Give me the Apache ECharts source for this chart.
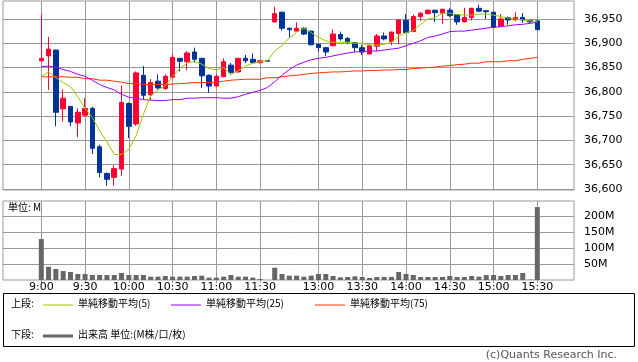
<!DOCTYPE html>
<html><head><meta charset="utf-8">
<script src="https://cdn.jsdelivr.net/npm/echarts@6/dist/echarts.min.js"></script>
<style>html,body{margin:0;padding:0;background:#fff}#c{width:638px;height:362px}</style>
</head><body><div id="c"></div>
<script>
var times = ["9:00","9:05","9:10","9:15","9:20","9:25","9:30","9:35","9:40","9:45","9:50","9:55",
"10:00","10:05","10:10","10:15","10:20","10:25","10:30","10:35","10:40","10:45","10:50","10:55",
"11:00","11:05","11:10","11:15","11:20","11:25","11:30","12:25",
"12:30","12:35","12:40","12:45","12:50","12:55","13:00","13:05","13:10","13:15","13:20","13:25",
"13:30","13:35","13:40","13:45","13:50","13:55","14:00","14:05","14:10","14:15","14:20","14:25",
"14:30","14:35","14:40","14:45","14:50","14:55","15:00","15:05","15:10","15:15","15:20","15:25","15:30"];
var tickLabels = ["9:00","9:30","10:00","10:30","11:00","11:30","13:00","13:30","14:00","14:30","15:00","15:30"];
var open  = [36864,36874,36886,36765,36770,36736,36752,36766,36687,36632,36624,36641,36776,36734,36834,36794,36822,36807,36830,36869,36862,36882,36869,36834,36812,36831,36855,36841,36869,36867,36860,36864,36944,36964,36931,36925,36931,36925,36898,36891,36895,36918,36910,36901,36891,36878,36894,36915,36904,36920,36947,36924,36955,36961,36968,36962,36968,36959,36944,36953,36972,36967,36964,36935,36953,36948,36953,36947,36946];
var close = [36869,36888,36758,36787,36738,36758,36766,36684,36634,36620,36642,36778,36729,36839,36793,36819,36808,36832,36871,36863,36880,36867,36833,36812,36832,36862,36840,36869,36864,36860,36864,36863,36961,36931,36928,36931,36919,36897,36891,36882,36919,36909,36903,36891,36882,36895,36915,36909,36923,36948,36922,36955,36962,36968,36963,36970,36957,36944,36953,36972,36966,36965,36933,36950,36948,36953,36948,36944,36928];
var high  = [36960,36913,36887,36805,36771,36766,36787,36769,36691,36634,36649,36813,36778,36842,36853,36826,36836,36836,36878,36870,36884,36891,36870,36836,36836,36869,36860,36870,36876,36879,36865,36864,36975,36965,36932,36943,36933,36926,36899,36892,36929,36924,36913,36902,36897,36898,36919,36922,36924,36950,36960,36959,36964,36970,36969,36971,36972,36960,36973,36973,36979,36968,36965,36960,36955,36964,36962,36948,36947];
var low   = [36862,36804,36729,36739,36729,36707,36749,36672,36624,36607,36607,36627,36705,36730,36785,36783,36805,36804,36828,36842,36845,36860,36808,36798,36811,36830,36836,36840,36859,36859,36859,36863,36943,36926,36912,36924,36917,36895,36883,36874,36894,36905,36898,36882,36876,36877,36884,36906,36896,36898,36921,36923,36946,36960,36944,36940,36954,36938,36943,36947,36964,36950,36932,36934,36938,36947,36942,36942,36927];
var ma5  = [36831,36841,36829,36819,36811,36790,36766,36747,36720,36697,36671,36671,36682,36710,36754,36792,36804,36813,36831,36849,36859,36863,36857,36848,36845,36850,36836,36844,36853,36859,36862,36864,36884,36895,36911,36923,36931,36922,36912,36905,36902,36902,36902,36900,36900,36896,36896,36898,36902,36914,36922,36926,36939,36950,36953,36962,36962,36959,36958,36958,36960,36960,36958,36955,36952,36950,36948,36946,36944];
var ma25 = [36852,36853,36851,36846,36842,36836,36832,36824,36815,36809,36804,36795,36789,36787,36784,36783,36782,36782,36784,36784,36787,36787,36788,36788,36788,36787,36787,36790,36795,36799,36803,36809,36821,36834,36846,36855,36861,36866,36869,36871,36874,36877,36880,36882,36883,36884,36884,36886,36888,36890,36895,36900,36905,36912,36915,36919,36924,36925,36925,36927,36929,36931,36933,36934,36936,36938,36939,36941,36943];
var ma75 = [36831,36831,36831,36831,36830,36830,36827,36827,36824,36824,36822,36820,36817,36817,36815,36815,36815,36815,36816,36817,36818,36819,36819,36819,36820,36822,36824,36825,36826,36826,36826,36829,36829,36831,36833,36834,36836,36838,36839,36840,36841,36841,36842,36843,36843,36844,36844,36845,36845,36846,36846,36848,36849,36850,36851,36853,36854,36856,36857,36859,36859,36862,36862,36862,36864,36864,36867,36869,36871];
var volume = [128,41.6,34.4,28,25,18.8,18.8,15.6,15.6,15.6,15.6,21.9,15.6,15.6,15.6,10.4,10.4,12.5,10.4,10.4,10.4,12.5,13.5,7.3,7.3,10.4,15.6,10.4,10.4,7.3,3,0,38.5,18.8,13.5,13.5,10.4,13.5,18.8,18.8,12.5,8.3,9.4,11.5,9.4,6.3,9.4,9.4,9.4,25,18.8,15.6,9.4,9.4,9.4,9.4,12.5,9.4,9.4,12.5,10.4,15.6,15.6,12.5,15.6,15.6,21.9,1,228];
var priceTicks = [36600,36650,36700,36750,36800,36850,36900,36950];
var volTicks = [50,100,150,200];

var tickIdx = tickLabels.map(function(t){return times.indexOf(t);});
var candles = times.map(function(t,i){return [i, open[i], close[i], low[i], high[i]];});
function pairs(arr){return arr.map(function(v,i){return [i,v];});}

var FONT = 'DejaVu Sans';
var CJK = 'Noto Sans CJK JP';
var GRID = '#999';
var chart = echarts.init(document.getElementById('c'), null, {renderer:'canvas'});
var xCommon = {type:'value', min:-5.25, max:73.03, axisLine:{show:false},
  splitLine:{show:true, lineStyle:{color:GRID, width:1}}};
chart.setOption({
  animation:false,
  backgroundColor:'#fff',
  grid:[
    {left:3, top:1, width:571, height:189, show:true, borderColor:GRID, borderWidth:1, backgroundColor:'#fff'},
    {left:3, top:201, width:571, height:79, show:true, borderColor:GRID, borderWidth:1, backgroundColor:'#fff'}
  ],
  xAxis:[
    Object.assign({}, xCommon, {gridIndex:0,
      axisTick:{show:false, customValues:tickIdx},
      axisLabel:{show:false, customValues:tickIdx}}),
    Object.assign({}, xCommon, {gridIndex:1,
      axisTick:{show:true, length:3, lineStyle:{color:GRID}, customValues:tickIdx},
      axisLabel:{show:true, customValues:tickIdx, margin:2, color:'#000', fontFamily:FONT, fontSize:11,
        formatter:function(v){return times[Math.round(v)];}}})
  ],
  yAxis:[
    {type:'value', gridIndex:0, position:'right', min:36598, max:36987, axisLine:{show:false},
      axisTick:{show:true, length:3, lineStyle:{color:GRID}, customValues:priceTicks},
      axisLabel:{customValues:priceTicks, margin:10, color:'#000', fontFamily:FONT, fontSize:11,
        formatter:function(v){return v.toLocaleString('en-US');}},
      splitLine:{show:true, lineStyle:{color:GRID}}},
    {type:'value', gridIndex:1, position:'right', min:0, max:247, axisLine:{show:false},
      axisTick:{show:true, length:3, lineStyle:{color:GRID}, customValues:volTicks},
      axisLabel:{customValues:volTicks, margin:10, color:'#000', fontFamily:FONT, fontSize:11,
        formatter:function(v){return v+'M';}},
      splitLine:{show:true, lineStyle:{color:GRID}}}
  ],
  series:[
    {type:'candlestick', xAxisIndex:0, yAxisIndex:0, data:candles, encode:{x:0, y:[1,2,3,4]},
      barWidth:5,
      itemStyle:{color:'#ff0033', color0:'#003399', borderColor:'#ff0033', borderColor0:'#003399', borderWidth:1}},
    {type:'line', xAxisIndex:0, yAxisIndex:0, data:pairs(ma75), showSymbol:false, lineStyle:{color:'#ff3300', width:1}, z:3},
    {type:'line', xAxisIndex:0, yAxisIndex:0, data:pairs(ma25), showSymbol:false, lineStyle:{color:'#9900ff', width:1}, z:3},
    {type:'line', xAxisIndex:0, yAxisIndex:0, data:pairs(ma5), showSymbol:false, lineStyle:{color:'#99cc00', width:1}, z:3},
    {type:'bar', xAxisIndex:1, yAxisIndex:1, data:pairs(volume), barWidth:5, itemStyle:{color:'#666666'}}
  ],
  graphic:[
    {type:'text', left:8, top:202, style:{text:'単位: M', font:'10px "'+CJK+'"', fill:'#000'}},
    {type:'rect', shape:{x:3.5, y:293.5, width:631, height:53}, style:{fill:null, stroke:'#000', lineWidth:1}},
    {type:'text', left:11, top:298, style:{text:'上段:', font:'10px "'+CJK+'"', fill:'#000'}},
    {type:'line', shape:{x1:43, y1:305, x2:73, y2:305}, style:{stroke:'#99cc00', lineWidth:1}},
    {type:'text', left:78, top:298, style:{text:'単純移動平均(5)', font:'10px "'+CJK+'"', fill:'#000'}},
    {type:'line', shape:{x1:171, y1:305, x2:201, y2:305}, style:{stroke:'#9900ff', lineWidth:1}},
    {type:'text', left:206, top:298, style:{text:'単純移動平均(25)', font:'10px "'+CJK+'"', fill:'#000'}},
    {type:'line', shape:{x1:315, y1:305, x2:345, y2:305}, style:{stroke:'#ff3300', lineWidth:1}},
    {type:'text', left:350, top:298, style:{text:'単純移動平均(75)', font:'10px "'+CJK+'"', fill:'#000'}},
    {type:'text', left:11, top:329, style:{text:'下段:', font:'10px "'+CJK+'"', fill:'#000'}},
    {type:'line', shape:{x1:43, y1:336, x2:73, y2:336}, style:{stroke:'#666666', lineWidth:3}},
    {type:'text', left:78, top:329, style:{text:'出来高 単位:(M株/口/枚)', font:'10px "'+CJK+'"', fill:'#000'}},
    {type:'text', right:21, top:350, style:{text:'(c)Quants Research Inc.', font:'11px "'+FONT+'"', fill:'#555'}}
  ]
});
</script></body></html>
